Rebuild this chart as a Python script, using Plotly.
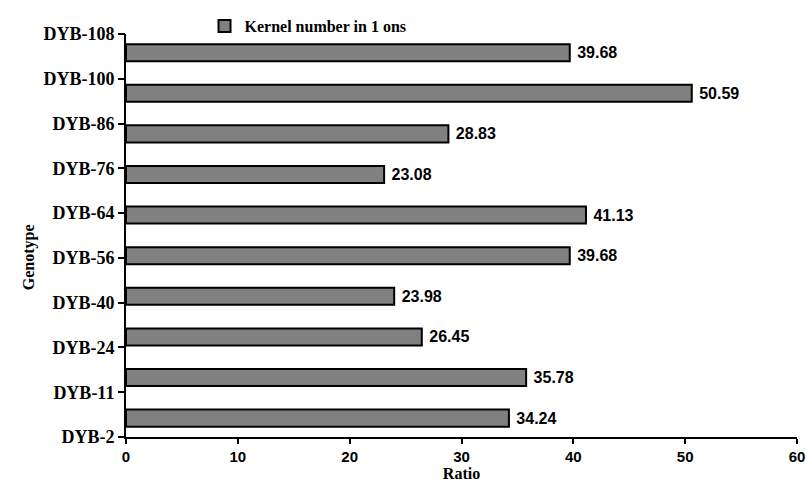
import plotly.graph_objects as go

genotypes = ["DYB-2", "DYB-11", "DYB-24", "DYB-40", "DYB-56", "DYB-64", "DYB-76", "DYB-86", "DYB-100", "DYB-108"]
values = [34.24, 35.78, 26.45, 23.98, 39.68, 41.13, 23.08, 28.83, 50.59, 39.68]
series_name = "Kernel number in 1 ons"
x_ticks = [0, 10, 20, 30, 40, 50, 60]

SERIF = "Liberation Serif"
SANS = "Liberation Sans"

fig = go.Figure()
fig.add_trace(go.Bar(
    x=values, y=genotypes, orientation="h", name=series_name,
    marker=dict(color="#808080", line=dict(color="black", width=2)),
    width=0.42,
    text=["\u00a0" + f"{v:.2f}" for v in values], textposition="outside",
    textfont=dict(family=SANS, size=16, color="black", weight="bold"),
    cliponaxis=False, showlegend=True,
))
# invisible helper trace carrying the tick label axis
fig.add_trace(go.Scatter(x=[None], y=[None], yaxis="y2", showlegend=False, hoverinfo="skip"))

fig.update_layout(
    width=806, height=487,
    margin=dict(l=126, r=9, t=30, b=50),
    plot_bgcolor="white", paper_bgcolor="white",
    font=dict(family=SERIF, color="black"),
    bargap=0.5,
    xaxis=dict(range=[0, 60], tickvals=x_ticks, showline=True, linecolor="black", linewidth=2,
               ticks="outside", ticklen=5, tickcolor="black", tickwidth=2, showgrid=False, zeroline=False,
               automargin=False, ticklabeloverflow="allow",
               tickfont=dict(family=SANS, size=15, weight="bold"),
               title=dict(text="Ratio", font=dict(family=SERIF, size=16, weight="bold"), standoff=2)),
    yaxis=dict(type="category", categoryarray=genotypes, range=[-0.465, 9.46],
               showticklabels=False, ticks="", showline=True, linecolor="black", linewidth=2,
               showgrid=False, zeroline=False, automargin=False),
    yaxis2=dict(overlaying="y", side="left", range=[0, len(genotypes) - 1],
                tickmode="array", tickvals=list(range(len(genotypes))), ticktext=genotypes,
                ticks="outside", ticklen=7, tickcolor="black", tickwidth=2, showgrid=False, zeroline=False,
                showline=False, automargin=False, tickfont=dict(family=SERIF, size=18, weight="bold")),
    legend=dict(x=0.117, y=1.062, xanchor="left", yanchor="top", orientation="h",
                font=dict(family=SERIF, size=16, weight="bold"), bgcolor="rgba(0,0,0,0)"),
    annotations=[dict(text="Genotype", textangle=-90, xref="paper", yref="paper",
                      x=0, y=0.446, xshift=-108, showarrow=False,
                      font=dict(family=SERIF, size=16, weight="bold", color="black"))],
)

fig.write_html("out.html", config={"displayModeBar": False},
               post_script="document.body.style.margin='0';document.body.style.padding='0';")
